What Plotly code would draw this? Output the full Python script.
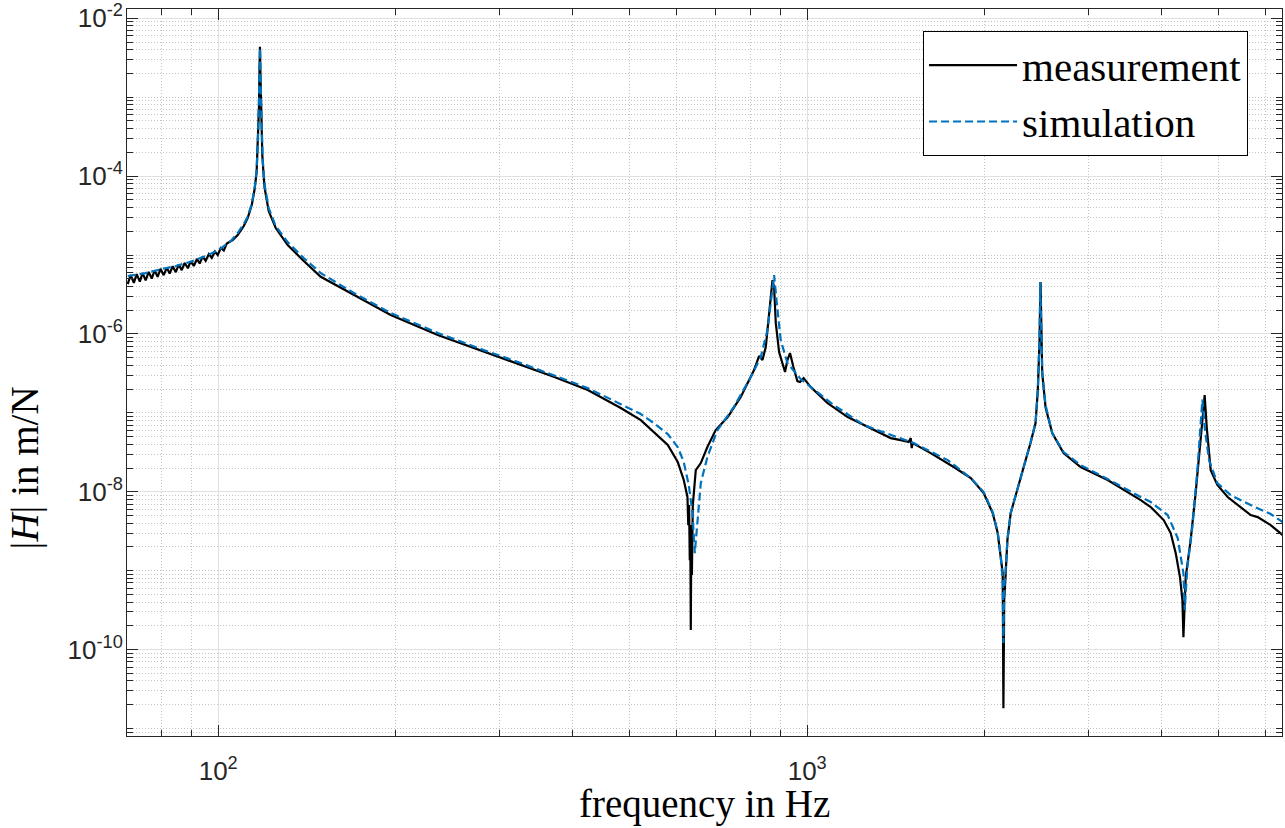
import numpy as np
import plotly.graph_objects as go

# ---------------- data ----------------
meas_freq_hz = [
    70.2, 71.0, 71.9, 72.7, 73.6, 74.4, 75.3, 76.2, 77.1, 78.0,
    78.9, 79.8, 80.8, 81.8, 82.7, 83.7, 84.7, 85.7, 86.7, 87.7,
    88.8, 89.8, 90.9, 92.0, 93.0, 94.1, 95.2, 96.4, 97.5, 98.7,
    99.8, 101.0, 102.2, 103.4,
    105.8, 107.9, 110.5, 112.2, 114.0, 115.3, 116.2, 116.8, 117.3, 117.5,
    117.7, 118.0, 118.3, 118.8, 119.5, 119.9, 121.8, 125.2, 131.2, 139.7,
    149.3, 169.9, 196.3, 235.9, 282.3, 326.4, 371.2, 424.1, 482.5, 521.8,
    548.9, 579.8, 602.9, 617.2, 626.2, 628.2, 630.2, 631.9, 633.1, 634.4,
    635.6, 637.1, 639.4, 641.9, 646.9, 659.7, 676.9, 699.3, 733.0, 771.3,
    812.4, 828.5, 839.5, 850.5, 861.5, 869.6, 873.1, 878.6, 884.5, 896.0,
    907.7, 917.0, 925.6, 935.0, 947.5, 962.4, 972.3, 986.4, 1013.8, 1083.3,
    1171.5, 1281.7, 1386.1, 1441.4, 1487.2, 1498.9, 1504.8, 1510.7, 1620.6, 1773.4,
    1895.7, 1993.8, 2065.2, 2106.0, 2130.8, 2147.6, 2153.5, 2160.2, 2172.9, 2187.4,
    2215.8, 2274.6, 2331.3, 2394.0, 2441.8, 2463.7, 2480.2, 2490.0, 2506.6, 2539.1,
    2606.5, 2724.2, 2912.5, 3237, 3684, 3831, 4030, 4142, 4224, 4295,
    4336, 4353, 4392, 4478, 4566, 4626, 4670, 4706, 4730, 4768,
    4843, 4971, 5175, 5445, 5662, 5819, 6123, 6416,
]
meas_mag = [
    4.29e-6, 5.58e-6, 4.44e-6, 5.74e-6, 4.61e-6, 5.91e-6, 4.78e-6, 6.12e-6, 5.04e-6, 6.40e-6,
    5.29e-6, 6.68e-6, 5.56e-6, 6.94e-6, 5.81e-6, 7.21e-6, 6.07e-6, 7.56e-6, 6.44e-6, 7.94e-6,
    6.80e-6, 8.34e-6, 7.27e-6, 8.92e-6, 7.83e-6, 9.54e-6, 8.44e-6, 1.03e-5, 9.21e-6, 1.11e-5,
    1.00e-5, 1.23e-5, 1.14e-5, 1.40e-5,
    1.55e-5, 1.79e-5, 2.33e-5, 2.94e-5, 4.30e-5, 6.86e-5, 1.13e-4, 2.71e-4, 7.96e-4, 2.21e-3,
    4.37e-3, 1.65e-3, 5.14e-4, 1.85e-4, 9.46e-5, 7.07e-5, 3.61e-5, 2.20e-5, 1.34e-5, 8.40e-6,
    5.31e-6, 3.11e-6, 1.74e-6, 9.69e-7, 5.95e-7, 4.04e-7, 2.87e-7, 1.95e-7, 1.15e-7, 8.10e-8,
    5.76e-8, 3.91e-8, 2.38e-8, 1.41e-8, 8.57e-9, 3.78e-9, 6.78e-9, 1.36e-9, 3.78e-9, 1.77e-10,
    2.11e-9, 8.80e-10, 6.78e-9, 9.08e-9, 1.88e-8, 2.31e-8, 3.69e-8, 6.05e-8, 8.85e-8, 1.59e-7,
    3.49e-7, 5.25e-7, 4.67e-7, 6.82e-7, 1.64e-6, 3.60e-6, 4.82e-6, 3.93e-6, 1.37e-6, 5.90e-7,
    4.28e-7, 3.29e-7, 4.67e-7, 5.73e-7, 3.81e-7, 2.53e-7, 2.46e-7, 2.76e-7, 2.12e-7, 1.33e-7,
    8.85e-8, 6.42e-8, 4.79e-8, 4.52e-8, 4.27e-8, 4.79e-8, 3.58e-8, 4.14e-8, 3.09e-8, 2.06e-8,
    1.49e-8, 9.63e-9, 5.37e-9, 3.00e-9, 1.49e-9, 9.32e-10, 1.81e-11, 4.24e-10, 9.32e-10, 2.44e-9,
    5.37e-9, 1.05e-8, 2.06e-8, 4.14e-8, 7.43e-8, 1.95e-7, 8.37e-7, 4.55e-6, 3.19e-7, 1.18e-7,
    5.55e-8, 3.09e-8, 2.06e-8, 1.41e-8, 7.85e-9, 6.40e-9, 4.38e-9, 3.00e-9, 1.67e-9, 8.30e-10,
    4.24e-10, 1.44e-10, 8.30e-10, 2.44e-9, 9.63e-9, 2.52e-8, 5.55e-8, 1.09e-7, 1.68e-7, 6.61e-8,
    1.88e-8, 1.22e-8, 8.57e-9, 6.40e-9, 5.07e-9, 4.78e-9, 3.78e-9, 2.83e-9,
]

sim_freq_hz = [
    70.2, 75.3, 79.8, 84.7, 89.8, 95.2, 100.2, 105.0, 107.9, 110.5,
    112.2, 114.0, 115.3, 116.2, 116.8, 117.3, 117.6, 117.8, 118.1, 118.5,
    119.0, 119.9, 121.8, 125.2, 131.2, 139.7, 149.3, 169.9, 196.3, 235.9,
    282.3, 326.4, 371.2, 424.1, 482.5, 521.8, 548.9, 579.8, 602.9, 617.2,
    629.4, 638.6, 644.4, 651.2, 659.7, 676.9, 704.0, 750.4, 802.0, 834.0,
    856.2, 869.6, 878.6, 888.0, 901.6, 925.6, 974.9, 1109.0, 1247.1, 1516.6,
    1732.3, 1895.7, 1993.8, 2065.2, 2106.0, 2130.8, 2147.6, 2153.5, 2160.2, 2172.9,
    2187.4, 2215.8, 2274.6, 2331.3, 2394.0, 2441.8, 2463.7, 2480.2, 2487.0, 2506.6,
    2539.1, 2606.5, 2724.2, 2912.5, 3237, 3684, 3831, 4093, 4257, 4353,
    4375, 4421, 4508, 4597, 4657, 4688, 4730, 4811, 4971, 5236,
    5662, 6123, 6416,
]
sim_mag = [
    5.42e-6, 5.91e-6, 6.59e-6, 7.26e-6, 8.23e-6, 9.71e-6, 1.16e-5, 1.50e-5, 1.90e-5, 2.47e-5,
    3.06e-5, 4.43e-5, 7.07e-5, 1.20e-4, 2.87e-4, 7.96e-4, 2.21e-3, 4.20e-3, 1.23e-3, 3.32e-4,
    1.60e-4, 7.71e-5, 3.94e-5, 2.33e-5, 1.46e-5, 9.16e-6, 5.91e-6, 3.30e-6, 1.84e-6, 1.03e-6,
    6.25e-7, 4.28e-7, 3.01e-7, 2.06e-7, 1.29e-7, 9.66e-8, 7.43e-8, 5.39e-8, 3.69e-8, 2.38e-8,
    1.22e-8, 5.37e-9, 1.67e-9, 4.01e-9, 1.29e-8, 2.75e-8, 6.05e-8, 1.18e-7, 2.84e-7, 5.10e-7,
    1.12e-6, 2.94e-6, 5.58e-6, 2.46e-6, 8.37e-7, 4.28e-7, 2.68e-7, 1.26e-7, 7.00e-8, 4.14e-8,
    2.52e-8, 1.49e-8, 9.91e-9, 5.53e-9, 3.09e-9, 1.53e-9, 7.60e-10, 1.21e-10, 5.68e-10, 1.02e-9,
    2.44e-9, 5.37e-9, 1.05e-8, 2.06e-8, 4.14e-8, 7.43e-8, 1.95e-7, 8.37e-7, 4.55e-6, 3.19e-7,
    1.26e-7, 5.55e-8, 3.19e-8, 2.18e-8, 1.45e-8, 8.57e-9, 7.41e-9, 5.07e-9, 2.59e-9, 9.32e-10,
    3.17e-10, 1.11e-9, 3.57e-9, 1.88e-8, 6.61e-8, 1.47e-7, 6.61e-8, 2.52e-8, 1.29e-8, 9.08e-9,
    6.78e-9, 5.22e-9, 4.13e-9,
]

series_names = ["measurement", "simulation"]

x_major_vals = [100, 1000]
x_major_text = ["10<sup>2</sup>", "10<sup>3</sup>"]
x_minor_vals = [70, 80, 90, 200, 300, 400, 500, 600, 700, 800, 900,
                2000, 3000, 4000, 5000, 6000]
y_major_vals = [1e-10, 1e-8, 1e-6, 1e-4, 1e-2]
y_major_text = ["10<sup>-10</sup>", "10<sup>-8</sup>", "10<sup>-6</sup>",
                "10<sup>-4</sup>", "10<sup>-2</sup>"]
y_minor_vals = [k * 10.0 ** n for n in range(-12, -1) for k in range(1, 10)
                if not (k == 1 and n % 2 == 0)]

x_range_hz = [70, 6400]
y_range_log = [-11.095, -1.882]

# ---------------- figure ----------------
AX = "#262626"
fig = go.Figure()
fig.add_trace(go.Scatter(
    x=meas_freq_hz, y=meas_mag, mode="lines", name=series_names[0],
    line=dict(color="#000000", width=2.2),
))
fig.add_trace(go.Scatter(
    x=sim_freq_hz, y=sim_mag, mode="lines", name=series_names[1],
    line=dict(color="#0072BD", width=2.2, dash="8px,4px"),
))

axis_common = dict(
    showline=True, linecolor=AX, linewidth=1, mirror="allticks",
    ticks="inside", ticklen=11, tickwidth=1, tickcolor=AX,
    showgrid=True, gridcolor="#e0e0e0", gridwidth=1, zeroline=False,
    tickfont=dict(family="Liberation Sans, Arial, sans-serif", size=26, color=AX),
    tickmode="array", automargin=False, ticklabeloverflow="allow",
)
minor_common = dict(
    tickmode="array", ticks="inside", ticklen=6, tickwidth=1, tickcolor=AX,
    showgrid=True, gridcolor="#c4c4c4", gridwidth=1, griddash="1px,2px",
)

fig.update_xaxes(
    type="log", range=[np.log10(x_range_hz[0]), np.log10(x_range_hz[1])],
    tickvals=x_major_vals, ticktext=x_major_text,
    minor=dict(tickvals=x_minor_vals, **minor_common),
    ticklabelstandoff=12,
    **axis_common,
)
fig.update_yaxes(
    type="log", range=y_range_log,
    tickvals=y_major_vals, ticktext=y_major_text,
    minor=dict(tickvals=y_minor_vals, **minor_common),
    ticklabelstandoff=-2,
    **axis_common,
)

label_font = dict(family="Liberation Serif, Times New Roman, serif", size=39, color="#000000")
fig.add_annotation(
    text="frequency in Hz", xref="paper", yref="paper",
    x=0.4996, y=-0.094, xanchor="center", yanchor="middle",
    showarrow=False, font=label_font,
)
fig.add_annotation(
    text="|<i>H</i>| in m/N", xref="paper", yref="paper",
    x=-0.0880, y=0.3686, xanchor="center", yanchor="middle",
    textangle=-90, showarrow=False, font=label_font,
)

fig.update_layout(
    width=1285, height=828,
    margin=dict(l=127, r=3, t=9, b=92, pad=0),
    paper_bgcolor="white", plot_bgcolor="white",
    showlegend=True,
    hovermode=False,
    legend=dict(
        x=0.9706, y=0.9697, xanchor="right", yanchor="top",
        bgcolor="white", bordercolor="#000000", borderwidth=1,
        font=dict(family="Liberation Serif, Times New Roman, serif", size=41, color="#000000"),
        itemwidth=88, tracegroupgap=0,
    ),
)

# remove the browser's default 8px page margin so the figure fills the window
fig.write_html(
    "out.html",
    config={"displayModeBar": False},
    post_script="document.body.style.margin='0px';",
)
